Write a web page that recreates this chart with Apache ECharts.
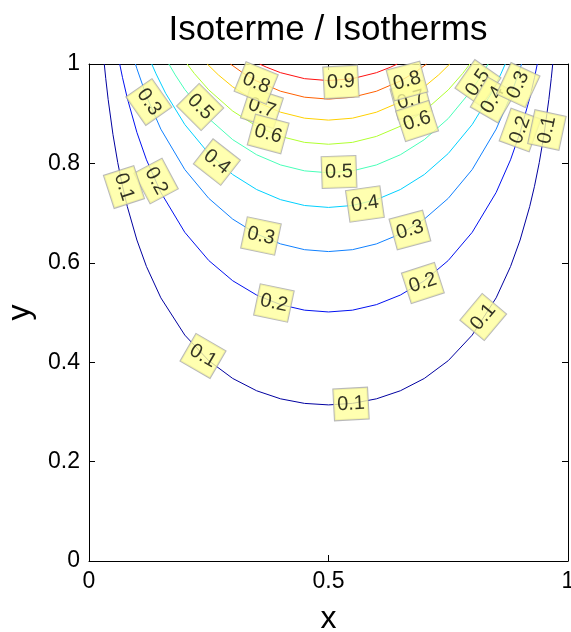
<!DOCTYPE html>
<html>
<head>
<meta charset="utf-8">
<script src="https://cdn.jsdelivr.net/npm/echarts@6/dist/echarts.min.js"></script>
<style>
  html, body { margin: 0; padding: 0; background: #fff; }
  #isoChart { width: 571px; height: 632px; }
</style>
</head>
<body>
<div id="isoChart"></div>
<script>
// contour levels and the isotherm lines ([x, y])
const levels = [0.1, 0.2, 0.3, 0.4, 0.5, 0.6, 0.7, 0.8, 0.9];

const iso1 = [[0.0319,1],[0.035,0.9706],[0.04,0.9285],[0.05,0.8584],[0.06,0.8016],[0.07,0.7539],[0.08,0.7130],[0.1,0.6458],[0.12,0.5924],[0.15,0.5295],[0.2,0.4545],[0.25,0.4031],[0.3,0.3673],[0.35,0.3425],[0.4,0.3263],[0.45,0.3171],[0.5,0.3141],[0.55,0.3171],[0.6,0.3263],[0.65,0.3425],[0.7,0.3673],[0.75,0.4031],[0.8,0.4545],[0.85,0.5295],[0.88,0.5924],[0.9,0.6458],[0.92,0.7130],[0.93,0.7539],[0.94,0.8016],[0.95,0.8584],[0.96,0.9285],[0.965,0.9706],[0.9681,1]];
const iso2 = [[0.0641,1],[0.07,0.9725],[0.08,0.9310],[0.1,0.8623],[0.12,0.8072],[0.15,0.7415],[0.2,0.6613],[0.25,0.6046],[0.3,0.5639],[0.35,0.5351],[0.4,0.5158],[0.45,0.5047],[0.5,0.5011],[0.55,0.5047],[0.6,0.5158],[0.65,0.5351],[0.7,0.5639],[0.75,0.6046],[0.8,0.6613],[0.85,0.7415],[0.88,0.8072],[0.9,0.8623],[0.92,0.9310],[0.93,0.9725],[0.9359,1]];
const iso3 = [[0.097,1],[0.1,0.9906],[0.12,0.9352],[0.15,0.8689],[0.2,0.7876],[0.25,0.7297],[0.3,0.6879],[0.35,0.6580],[0.4,0.6380],[0.45,0.6264],[0.5,0.6226],[0.55,0.6264],[0.6,0.6380],[0.65,0.6580],[0.7,0.6879],[0.75,0.7297],[0.8,0.7876],[0.85,0.8689],[0.88,0.9352],[0.9,0.9906],[0.903,1]];
const iso4 = [[0.131,1],[0.14,0.9802],[0.16,0.9411],[0.2,0.8782],[0.25,0.8199],[0.3,0.7776],[0.35,0.7474],[0.4,0.7270],[0.45,0.7153],[0.5,0.7114],[0.55,0.7153],[0.6,0.7270],[0.65,0.7474],[0.7,0.7776],[0.75,0.8199],[0.8,0.8782],[0.84,0.9411],[0.86,0.9802],[0.869,1]];
const iso5 = [[0.1667,1],[0.18,0.9781],[0.2,0.9487],[0.25,0.8903],[0.3,0.8478],[0.35,0.8174],[0.4,0.7969],[0.45,0.7850],[0.5,0.7811],[0.55,0.7850],[0.6,0.7969],[0.65,0.8174],[0.7,0.8478],[0.75,0.8903],[0.8,0.9487],[0.82,0.9781],[0.8333,1]];
const iso6 = [[0.2048,1],[0.22,0.9808],[0.25,0.9479],[0.3,0.9053],[0.35,0.8748],[0.4,0.8543],[0.45,0.8423],[0.5,0.8385],[0.55,0.8423],[0.6,0.8543],[0.65,0.8748],[0.7,0.9053],[0.75,0.9479],[0.78,0.9808],[0.7952,1]];
const iso7 = [[0.2468,1],[0.27,0.9781],[0.3,0.9541],[0.35,0.9236],[0.4,0.9030],[0.45,0.8910],[0.5,0.8871],[0.55,0.8910],[0.6,0.9030],[0.65,0.9236],[0.7,0.9541],[0.73,0.9781],[0.7532,1]];
const iso8 = [[0.2952,1],[0.32,0.9829],[0.35,0.9658],[0.4,0.9452],[0.45,0.9332],[0.5,0.9293],[0.55,0.9332],[0.6,0.9452],[0.65,0.9658],[0.68,0.9829],[0.7048,1]];
const iso9 = [[0.3564,1],[0.37,0.9938],[0.4,0.9825],[0.45,0.9705],[0.5,0.9666],[0.55,0.9705],[0.6,0.9825],[0.63,0.9938],[0.6436,1]];

const isoLines = [iso1, iso2, iso3, iso4, iso5, iso6, iso7, iso8, iso9];

// clabel boxes: where each one sits and which level it names
const labelX     = [0.361, 0.349, 0.374, 0.125, 0.232, 0.267, 0.140, 0.073, 0.359, 0.386, 0.238, 0.526, 0.522, 0.576, 0.547, 0.670, 0.697, 0.823, 0.672, 0.664, 0.685, 0.812, 0.843, 0.896, 0.900, 0.956];
const labelY     = [0.9115, 0.9618, 0.8592, 0.9235, 0.9135, 0.8028, 0.7646, 0.7525, 0.6539, 0.5191, 0.4125, 0.9638, 0.7827, 0.7183, 0.3159, 0.6660, 0.5594, 0.4909, 0.9276, 0.9658, 0.8853, 0.9618, 0.9276, 0.9577, 0.8672, 0.8672];
const labelLevel = [0.7, 0.8, 0.6, 0.3, 0.5, 0.4, 0.2, 0.1, 0.3, 0.2, 0.1, 0.9, 0.5, 0.4, 0.1, 0.3, 0.2, 0.1, 0.7, 0.8, 0.6, 0.5, 0.4, 0.3, 0.2, 0.1];
const labelAngle = [-18, -22, -15, -55, -45, -38, -62, -72, -12, -12, -30, 3, 2, 8, 3, 15, 18, 50, 15, 15, 18, 55, 60, 65, 70, 78];

const xTicks = [0, 0.5, 1];
const yTicks = [0, 0.2, 0.4, 0.6, 0.8, 1];

// jet-like colours of the contour levels
const lineColors = ['#0000a0', '#0010f0', '#1080ff', '#00d0ff', '#48ffb8', '#b0ff30', '#ffd000', '#ff6000', '#ff1010'];

const font = 'Liberation Sans, Arial, sans-serif';
let chart = echarts.init(document.getElementById('isoChart'));

let series = isoLines.map(function (pts, i) {
  return {
    name: String(levels[i]),
    type: 'line',
    data: pts,
    showSymbol: false,
    symbol: 'none',
    smooth: false,
    lineStyle: { color: lineColors[i], width: 1 },
    z: 2,
    silent: true
  };
});

series.push({
  type: 'scatter',
  symbolSize: 1,
  itemStyle: { color: 'rgba(0,0,0,0)' },
  z: 5,
  silent: true,
  data: labelX.map(function (x, i) {
    return {
      value: [x, labelY[i]],
      label: { rotate: labelAngle[i] }
    };
  }),
  label: {
    show: true,
    position: 'inside',
    formatter: function (p) {
      return labelLevel[p.dataIndex].toFixed(1);
    },
    color: '#000',
    fontFamily: font,
    fontSize: 20,
    lineHeight: 20,
    backgroundColor: '#ffff9c',
    borderColor: '#a8a8a8',
    borderWidth: 1,
    padding: [6, 3, 5, 3]
  },
  labelLayout: { hideOverlap: false }
});

let axisCommon = {
  type: 'value',
  min: 0,
  max: 1,
  axisLine: { show: true, onZero: false, lineStyle: { color: '#000', width: 1 } },
  axisTick: { show: true, inside: true, length: 6, lineStyle: { color: '#000' } },
  splitLine: { show: false }
};

let option = {
  backgroundColor: '#fff',
  animation: false,
  title: {
    text: 'Isoterme / Isotherms',
    left: 323,
    textAlign: 'center',
    top: 8,
    textStyle: { fontFamily: font, fontSize: 35, fontWeight: 'normal', color: '#000' }
  },
  grid: { left: 89, right: 3, top: 64, bottom: 71, outerBoundsMode: 'none', containLabel: false },
  xAxis: [
    Object.assign({}, axisCommon, {
      position: 'bottom',
      interval: xTicks[1] - xTicks[0],
      name: 'x',
      nameLocation: 'middle',
      nameGap: 42,
      nameTextStyle: { fontFamily: font, fontSize: 32, color: '#000' },
      axisLabel: { color: '#000', fontFamily: font, fontSize: 23, margin: 9 }
    }),
    Object.assign({}, axisCommon, {
      position: 'top',
      interval: xTicks[1] - xTicks[0],
      axisLabel: { show: false }
    })
  ],
  yAxis: [
    Object.assign({}, axisCommon, {
      position: 'left',
      interval: yTicks[1] - yTicks[0],
      name: 'y',
      nameLocation: 'middle',
      nameGap: 53,
      nameTextStyle: { fontFamily: font, fontSize: 32, color: '#000' },
      axisLabel: { color: '#000', fontFamily: font, fontSize: 23, margin: 9 }
    }),
    Object.assign({}, axisCommon, {
      position: 'right',
      interval: yTicks[1] - yTicks[0],
      axisLabel: { show: false }
    })
  ],
  series: series
};

chart.setOption(option);
</script>
</body>
</html>
